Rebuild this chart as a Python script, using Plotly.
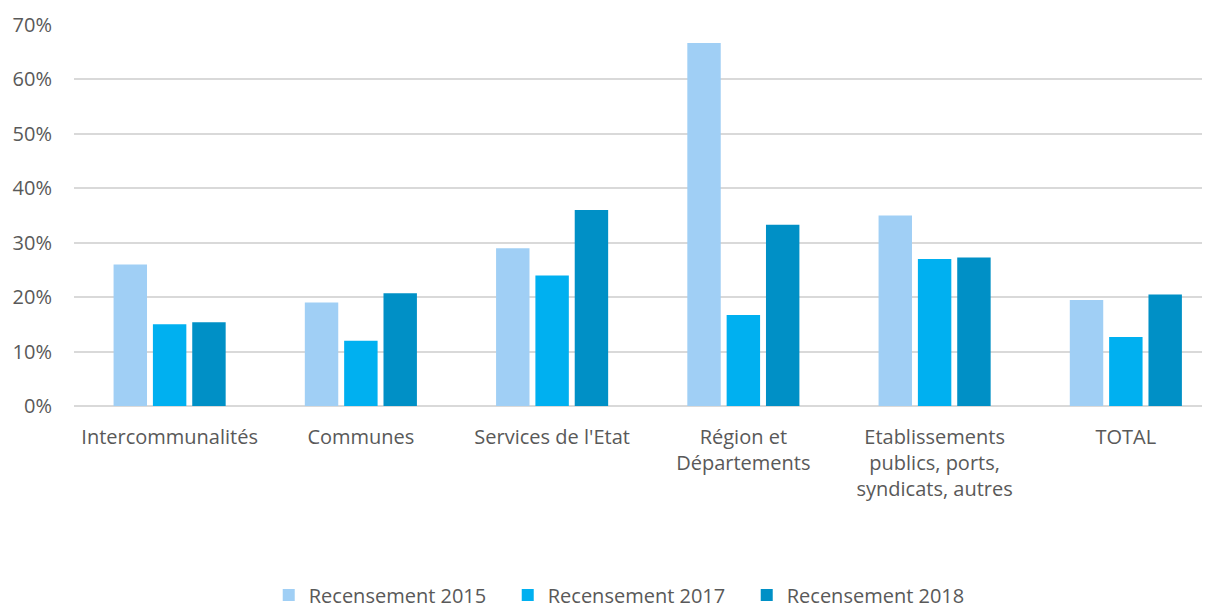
import plotly.graph_objects as go

categories = ["Intercommunalités", "Communes", "Services de l'Etat",
              "Région et<br>Départements",
              "Etablissements<br>publics, ports,<br>syndicats, autres", "TOTAL"]
series_names = ["Recensement 2015", "Recensement 2017", "Recensement 2018"]
v2015 = [0.26, 0.19, 0.29, 0.667, 0.35, 0.195]
v2017 = [0.15, 0.12, 0.24, 0.167, 0.27, 0.127]
v2018 = [0.154, 0.207, 0.36, 0.333, 0.273, 0.205]
colors = ["#A0CFF5", "#00B0F0", "#0090C6"]
ytick_vals = [0, 0.1, 0.2, 0.3, 0.4, 0.5, 0.6, 0.7]

FONT = "Open Sans"
TXT = "#595959"

fig = go.Figure()
xs = list(range(len(categories)))
for name, vals, col in zip(series_names, [v2015, v2017, v2018], colors):
    fig.add_trace(go.Bar(x=xs, y=vals, name=name, marker=dict(color=col, line=dict(width=0))))

fig.update_layout(
    width=1210, height=607,
    margin=dict(l=66, r=8, t=17, b=209, autoexpand=False),
    paper_bgcolor="white", plot_bgcolor="white",
    barmode="group", bargap=0.383, bargroupgap=0.15,
    font=dict(family=FONT, size=20, color=TXT),
    showlegend=True,
    legend=dict(orientation="h", xref="paper", x=0.487, xanchor="center",
                yref="container", y=0.033, yanchor="middle",
                font=dict(family=FONT, size=20, color=TXT),
                entrywidth=194, entrywidthmode="pixels", traceorder="normal"),
)
fig.update_xaxes(tickmode="array", tickvals=xs, ticktext=categories,
                 range=[-0.5, 5.44], showgrid=False, showline=False,
                 zeroline=False, ticks="", ticklabelstandoff=17,
                 tickfont=dict(family=FONT, size=20, color=TXT))
fig.update_yaxes(range=[0, 0.7001], tickvals=ytick_vals, tickformat=".0%",
                 showgrid=True, gridcolor="#D9D9D9", gridwidth=1.5,
                 zeroline=True, zerolinecolor="#D9D9D9", zerolinewidth=2,
                 showline=False, ticks="", ticklabelstandoff=21,
                 tickfont=dict(family=FONT, size=20, color=TXT))

fig.write_html("out.html")
